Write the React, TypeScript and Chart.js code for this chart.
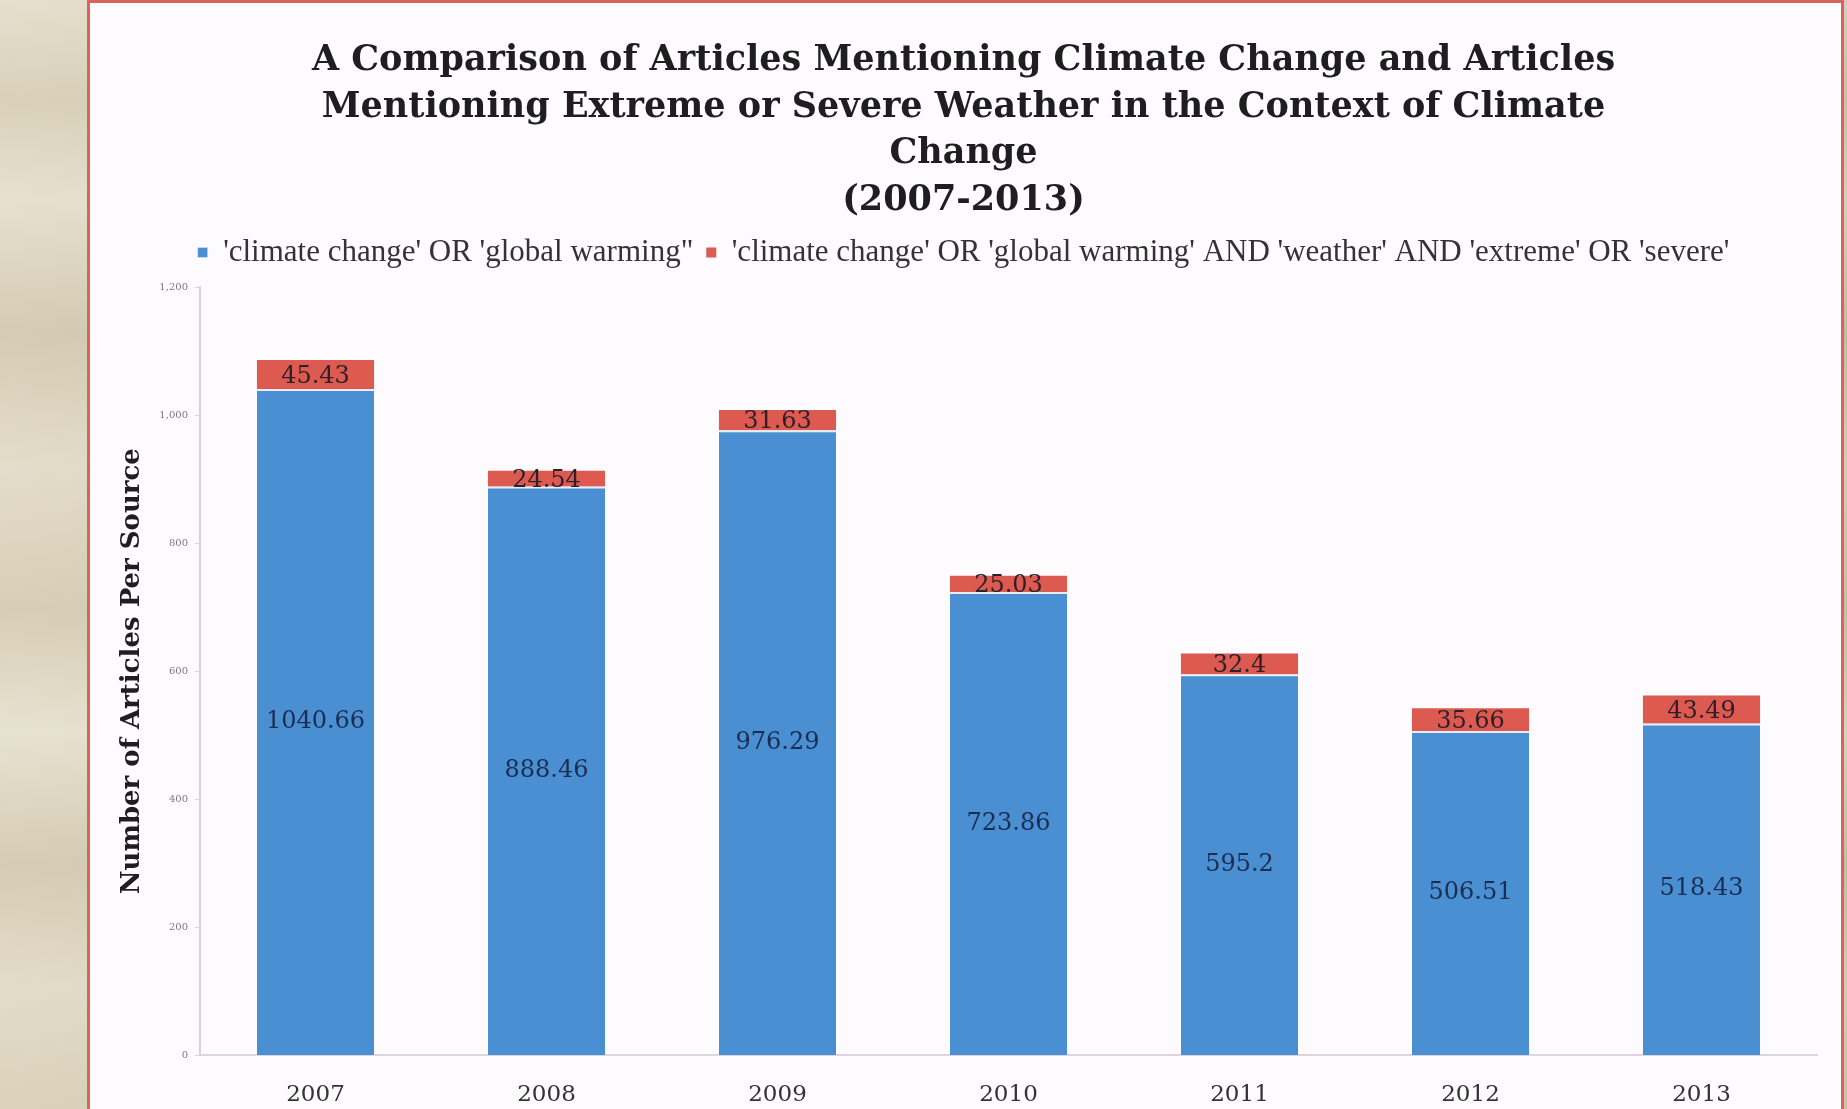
import React, { useEffect, useRef } from "react";
import { Chart, registerables } from "chart.js";

Chart.register(...registerables);

// Chart text
const titleLines = [
  "A Comparison of Articles Mentioning Climate Change and Articles",
  "Mentioning Extreme or Severe Weather in the Context of Climate",
  "Change",
  "(2007-2013)",
];
const yAxisTitle = "Number of Articles Per Source";

// Categories and series
const years = ["2007", "2008", "2009", "2010", "2011", "2012", "2013"];
const seriesNames = [
  "'climate change' OR 'global warming\"",
  "'climate change' OR 'global warming' AND 'weather' AND 'extreme' OR 'severe'",
];
const climateArticles = [1040.66, 888.46, 976.29, 723.86, 595.2, 506.51, 518.43];
const extremeWeatherArticles = [45.43, 24.54, 31.63, 25.03, 32.4, 35.66, 43.49];

// Value axis
const yMin = 0;
const yMax = 1200;
const yStep = 200;

const BLUE = "#4a8fd1";
const RED = "#dc5a4f";

// Writes each segment's value in the middle of its bar segment
const segmentLabels = {
  id: "segmentLabels",
  afterDatasetsDraw(chart: any) {
    const ctx = chart.ctx;
    chart.data.datasets.forEach((ds: any, di: number) => {
      const meta = chart.getDatasetMeta(di);
      meta.data.forEach((bar: any, i: number) => {
        const { x, y, base } = bar.getProps(["x", "y", "base"], true);
        ctx.save();
        ctx.font = "24px 'DejaVu Serif', serif";
        ctx.fillStyle = di === 0 ? "#1b2d52" : "#2e1f2a";
        ctx.textAlign = "center";
        ctx.textBaseline = "middle";
        ctx.fillText(String(ds.data[i]), x, (y + base) / 2 + (di === 1 ? 2 : 0));
        ctx.restore();
      });
    });
  },
};

// Leaves a little more room between the legend row and the plot
const legendGap = {
  id: "legendGap",
  beforeInit(chart: any) {
    const legend = chart.legend;
    if (!legend) return;
    const fit = legend.fit;
    legend.fit = function () {
      fit.call(this);
      this.height += 9;
    };
  },
};

export default function App() {
  const canvasRef = useRef<HTMLCanvasElement | null>(null);

  useEffect(() => {
    if (!canvasRef.current) return;
    const chart = new Chart(canvasRef.current, {
      type: "bar",
      data: {
        labels: years,
        datasets: [
          {
            label: seriesNames[0],
            data: climateArticles,
            backgroundColor: BLUE,
            borderColor: "#e6edf7",
            borderWidth: { top: 2, left: 0, right: 0, bottom: 0 },
            borderSkipped: false,
          },
          {
            label: seriesNames[1],
            data: extremeWeatherArticles,
            backgroundColor: RED,
            borderWidth: 0,
          },
        ],
      },
      options: {
        responsive: false,
        animation: false,
        layout: { padding: { left: 20, right: 24, top: 0, bottom: 2 } },
        datasets: {
          bar: { categoryPercentage: 1, barPercentage: 0.507 },
        },
        plugins: {
          title: {
            display: true,
            text: titleLines,
            color: "#1e1e1e",
            font: { family: "'DejaVu Serif', serif", size: 35, weight: "bold", lineHeight: 1.3286 },
            padding: { top: 35, bottom: 0 },
          },
          legend: {
            display: true,
            labels: {
              color: "#333333",
              font: { family: "'Liberation Serif', serif", size: 31 },
              boxWidth: 10,
              boxHeight: 10,
              padding: 13,
            },
          },
          tooltip: { enabled: false },
        },
        scales: {
          x: {
            stacked: true,
            grid: { display: false, drawTicks: false },
            border: { display: true, color: "#ddd6de", width: 2 },
            ticks: {
              color: "#333333",
              font: { family: "'DejaVu Serif', serif", size: 23 },
              padding: 26,
            },
          },
          y: {
            stacked: true,
            min: yMin,
            max: yMax,
            afterFit: (scale: any) => {
              scale.width = 90;
            },
            grid: { display: true, drawOnChartArea: false, drawTicks: true, tickLength: 5, color: "#d8d0da" },
            border: { display: true, color: "#d8d0da", width: 2 },
            ticks: {
              stepSize: yStep,
              color: "#7a7a7a",
              font: { family: "'DejaVu Serif', serif", size: 10 },
              padding: 7,
            },
            title: {
              display: true,
              text: yAxisTitle,
              color: "#1e1e1e",
              font: { family: "'DejaVu Serif', serif", size: 26, weight: "bold" },
              padding: { top: 7, bottom: 0 },
            },
          },
        },
      },
      plugins: [segmentLabels, legendGap],
    });
    return () => chart.destroy();
  }, []);

  return (
    <div
      style={{
        position: "absolute",
        left: 0,
        top: 0,
        width: 1847,
        height: 1109,
        overflow: "hidden",
        background:
          "linear-gradient(90deg, rgba(255,255,255,0.10) 0%, rgba(0,0,0,0.05) 40%, rgba(255,255,255,0.08) 70%, rgba(0,0,0,0.06) 100%)," +
          "linear-gradient(180deg, #e3dcc8 0%, #d5ccb2 9%, #e4ddca 18%, #d0c6ab 30%, #e1d9c4 42%, #d3c9ae 55%, #e5dfcc 66%, #d1c7ac 78%, #e0d8c2 89%, #d6cdb3 100%)",
      }}
    >
      <div
        style={{
          position: "absolute",
          left: 87,
          top: 0,
          width: 1757,
          height: 1160,
          boxSizing: "border-box",
          border: "3px solid #d8645c",
          background: "#fdfbfe",
        }}
      >
        <canvas
          ref={canvasRef}
          width={1751}
          height={1134}
          style={{ position: "absolute", left: 0, top: 0, width: 1751, height: 1134 }}
        />
      </div>
    </div>
  );
}
